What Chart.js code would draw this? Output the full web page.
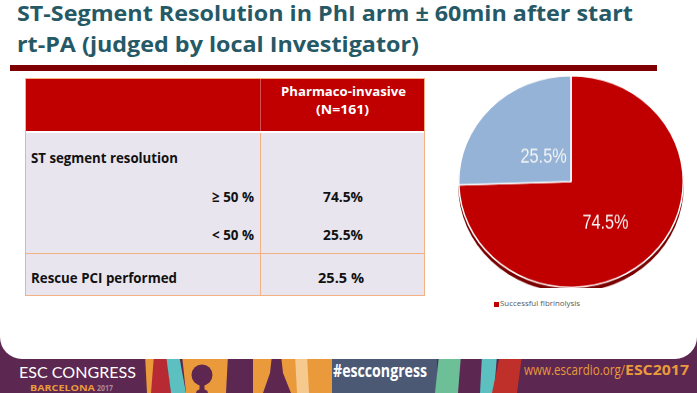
<!DOCTYPE html>
<html><head><meta charset="utf-8">
<script src="https://cdn.jsdelivr.net/npm/chart.js@4.4.1/dist/chart.umd.min.js"></script>
<style>
html,body{margin:0;padding:0;width:697px;height:393px;overflow:hidden;background:#fff;}
#slide{position:relative;width:697px;height:393px;overflow:hidden;background:#5c2750;}
#deco{position:absolute;left:0;top:0;}
#white{position:absolute;left:0;top:0;width:697px;height:359px;background:#fff;border-radius:0 0 22px 22px;}
.t{position:absolute;white-space:nowrap;line-height:1;transform-origin:0 0;font-family:"Open Sans",sans-serif;}
.b{font-weight:bold;}
.box{position:absolute;box-sizing:border-box;}
#pieWrap{position:absolute;left:458px;top:75px;width:226px;height:226px;transform:scaleY(0.943);transform-origin:0 0;}
</style></head>
<body>
<div id="slide">
  <svg id="deco" width="697" height="393">
    <polygon points="145,355 155,355 158,393 147,393" fill="#ea9a3a"/>
    <polygon points="154,355 167,355 171,393 151,393" fill="#b72a33"/>
    <polygon points="166,355 179,355 186,393 171,393" fill="#5cbfc0"/>
    <polygon points="182,355 228,355 226,393 186,393" fill="#ea9a3a"/>
    <circle cx="202" cy="375" r="10.5" fill="#5e2750"/>
    <rect x="199.5" y="378" width="5" height="15" fill="#5e2750"/>
    <ellipse cx="202" cy="393" rx="6" ry="4" fill="#5e2750"/>
    <polygon points="253,355 332,355 332,393 253,393" fill="#ea9a3a"/>
    <polygon points="295,355 307,355 309,393 297,393" fill="#f6c98f"/>
    <polygon points="272,355 281,355 283,373 291,393 263,393 270,373" fill="#5e2750"/>
    <polygon points="332,355 437,355 437,393 332,393" fill="#4b5975"/>
    <polygon points="439,355 461,355 458,393 435,393" fill="#6dbf98"/>
    <polygon points="482,355 497,355 494,393 480,393" fill="#5cbfc0"/>
    <polygon points="500,355 522,355 517,393 492,393" fill="#c0302a"/>
  </svg>
  <div id="white"></div>

  <div class="t b" data-w="616" style="left:17px;top:3px;font-size:21px;color:#265966;">ST-Segment Resolution in PhI arm ± 60min after start</div>
  <div class="t b" data-w="402" style="left:17px;top:34px;font-size:21px;color:#265966;">rt-PA (judged by local Investigator)</div>
  <div class="box" style="left:10px;top:65px;width:647px;height:6px;background:#7f0000;"></div>

  <!-- table -->
  <div class="box" style="left:25px;top:78px;width:400px;height:53px;background:#c00000;"></div>
  <div class="box" style="left:260px;top:78px;width:1px;height:53px;background:#d45050;"></div>
  <div class="box" style="left:25px;top:133px;width:400px;height:163px;background:#e8e5ef;"></div>
  <div class="box" style="left:260px;top:133px;width:1px;height:163px;background:#f4b183;"></div>
  <div class="box" style="left:25px;top:253px;width:400px;height:1px;background:#f4b183;"></div>
  <div class="box" style="left:25px;top:78px;width:400px;height:218px;border:1px solid #f4b183;"></div>

  <div class="t b" data-w="125" style="left:281px;top:84.7px;font-size:13px;color:#fff;">Pharmaco-invasive</div>
  <div class="t b" data-w="53" style="left:316px;top:102.7px;font-size:13px;color:#fff;">(N=161)</div>
  <div class="t b" data-w="147" style="left:31px;top:149.7px;font-size:15px;color:#111;">ST segment resolution</div>
  <div class="t b" data-w="42" style="left:212px;top:189.4px;font-size:15px;color:#111;">≥ 50 %</div>
  <div class="t b" data-w="40" style="left:323px;top:189.4px;font-size:15px;color:#111;" id="v1"></div>
  <div class="t b" data-w="42" style="left:212px;top:227.4px;font-size:15px;color:#111;">&lt; 50 %</div>
  <div class="t b" data-w="40" style="left:323px;top:227.4px;font-size:15px;color:#111;" id="v2"></div>
  <div class="t b" data-w="146" style="left:31px;top:270.4px;font-size:15px;color:#111;">Rescue PCI performed</div>
  <div class="t b" data-w="46" style="left:318px;top:270.4px;font-size:15px;color:#111;">25.5 %</div>

  <div id="pieWrap"><canvas id="pie" width="226" height="226"></canvas></div>
  <div class="box" id="legBox" style="left:494px;top:302px;width:5px;height:5px;"></div>
  <div class="t" id="legText" data-w="80" style="left:500px;top:299.7px;font-size:7.5px;color:#595959;"></div>

  <!-- footer -->
  <div class="t" data-w="117" style="left:19px;top:364.5px;font-size:15.5px;color:#fff;font-family:Lato,sans-serif;">ESC CONGRESS</div>
  <div class="t b" data-w="65" style="left:30px;top:383px;font-size:9.5px;color:#e99a3c;">BARCELONA</div>
  <div class="t b" data-w="16" style="left:97px;top:383px;font-size:9.5px;color:#a88a9c;">2017</div>
  <div class="t b" data-w="94" style="left:333px;top:360.9px;font-size:18px;color:#fff;">#esccongress</div>
  <div class="t" data-w="101" style="left:524px;top:363.3px;font-size:14px;color:#e99a3c;">www.escardio.org/</div>
  <div class="t b" data-w="64" style="left:625px;top:363.3px;font-size:14px;color:#e99a3c;">ESC2017</div>
</div>

<script>
// ---- data ----
const pieLabels = ["Successful fibrinolysis", ""];
const pieValues = [74.5, 25.5];
const pieColors = ["#c00000", "#95b3d7"];
const tableValues = ["74.5%", "25.5%"];

document.getElementById('v1').textContent = tableValues[0];
document.getElementById('v2').textContent = tableValues[1];
document.getElementById('legBox').style.background = pieColors[0];
document.getElementById('legText').textContent = pieLabels[0];

// fit text widths
document.querySelectorAll('.t[data-w]').forEach(el => {
  const w = el.getBoundingClientRect().width;
  const target = parseFloat(el.dataset.w);
  if (w > 0) el.style.transform = 'scaleX(' + (target / w) + ')';
});

// label placement style: fraction of radius and pixel nudge
const labelRadius = [0.49, 0.34];
const labelNudge = [[-5, 6], [0, 0]];

const shadowPlugin = {
  id: 'pieShadow',
  beforeDatasetsDraw(chart) {
    const arc = chart.getDatasetMeta(0).data[0];
    const p = arc.getProps(['x', 'y', 'outerRadius'], true);
    const ctx = chart.ctx;
    ctx.save();
    ctx.fillStyle = '#7a0000';
    ctx.beginPath();
    ctx.arc(p.x, p.y + 4.5, p.outerRadius + 0.5, 0, Math.PI * 2);
    ctx.fill();
    ctx.restore();
  }
};

const labelPlugin = {
  id: 'pieLabels',
  afterDatasetsDraw(chart) {
    const ctx = chart.ctx;
    chart.getDatasetMeta(0).data.forEach((arc, i) => {
      const p = arc.getProps(['x', 'y', 'startAngle', 'endAngle', 'outerRadius'], true);
      const mid = (p.startAngle + p.endAngle) / 2;
      const r = p.outerRadius * labelRadius[i];
      const px = p.x + Math.cos(mid) * r + labelNudge[i][0];
      const py = p.y + Math.sin(mid) * r + labelNudge[i][1];
      ctx.save();
      ctx.translate(px, py);
      ctx.scale(0.74, 1);
      ctx.font = '22px "Liberation Sans", Arial, sans-serif';
      ctx.fillStyle = '#f4f4f4';
      ctx.textAlign = 'center';
      ctx.textBaseline = 'middle';
      ctx.fillText(pieValues[i].toFixed(1) + '%', 0, 0);
      ctx.restore();
    });
  }
};

new Chart(document.getElementById('pie'), {
  type: 'pie',
  data: {
    labels: pieLabels,
    datasets: [{
      data: pieValues,
      backgroundColor: pieColors,
      borderColor: '#ffffff',
      borderWidth: 1.5,
      hoverOffset: 0
    }]
  },
  options: {
    responsive: false,
    animation: false,
    layout: { padding: 0 },
    plugins: { legend: { display: false }, tooltip: { enabled: false } }
  },
  plugins: [shadowPlugin, labelPlugin]
});
</script>
</body></html>
